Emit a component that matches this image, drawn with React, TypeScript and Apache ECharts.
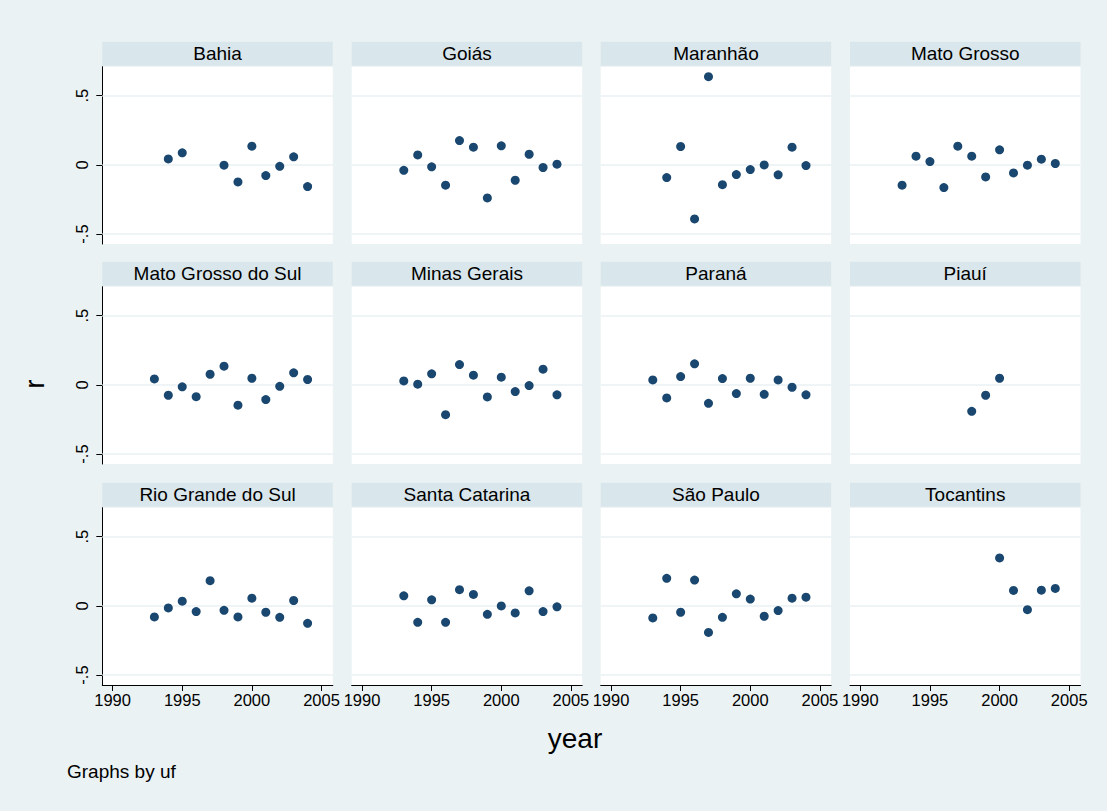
import React, { useEffect, useRef } from "react";
import * as echarts from "echarts";

const years = [1993, 1994, 1995, 1996, 1997, 1998, 1999, 2000, 2001, 2002, 2003, 2004];
const states = [
  "Bahia", "Goiás", "Maranhão", "Mato Grosso",
  "Mato Grosso do Sul", "Minas Gerais", "Paraná", "Piauí",
  "Rio Grande do Sul", "Santa Catarina", "São Paulo", "Tocantins",
];
const bahia = [null, 0.043, 0.087, null, null, -0.002, -0.123, 0.135, -0.077, -0.01, 0.058, -0.157];
const goias = [-0.039, 0.072, -0.014, -0.147, 0.176, 0.128, -0.239, 0.138, -0.111, 0.077, -0.019, 0.005];
const maranhao = [null, -0.092, 0.133, -0.391, 0.638, -0.143, -0.07, -0.034, 0.0, -0.072, 0.128, -0.005];
const matoGrosso = [-0.147, 0.063, 0.024, -0.164, 0.135, 0.063, -0.087, 0.109, -0.058, -0.002, 0.041, 0.01];
const matoGrossoSul = [0.043, -0.075, -0.014, -0.085, 0.077, 0.135, -0.147, 0.048, -0.106, -0.01, 0.087, 0.039];
const minasGerais = [0.029, 0.005, 0.08, -0.215, 0.147, 0.07, -0.087, 0.056, -0.048, -0.005, 0.114, -0.072];
const parana = [0.036, -0.094, 0.06, 0.152, -0.133, 0.046, -0.063, 0.048, -0.068, 0.036, -0.017, -0.072];
const piaui = [null, null, null, null, null, -0.191, -0.075, 0.048, null, null, null, null];
const rioGrandeSul = [-0.08, -0.015, 0.034, -0.041, 0.182, -0.032, -0.08, 0.056, -0.046, -0.083, 0.039, -0.126];
const santaCatarina = [0.073, -0.119, 0.044, -0.119, 0.117, 0.083, -0.061, 0.0, -0.051, 0.109, -0.041, -0.007];
const saoPaulo = [-0.087, 0.199, -0.046, 0.187, -0.192, -0.083, 0.087, 0.049, -0.075, -0.034, 0.056, 0.063];
const tocantins = [null, null, null, null, null, null, null, 0.347, 0.112, -0.027, 0.114, 0.126];
const seriesValues = [
  bahia, goias, maranhao, matoGrosso,
  matoGrossoSul, minasGerais, parana, piaui,
  rioGrandeSul, santaCatarina, saoPaulo, tocantins,
];
const xTicks = [1990, 1995, 2000, 2005];
const yTicks = [-0.5, 0, 0.5];
const yTickLabels = ["-.5", "0", ".5"];

const FONT = "'Liberation Sans', Arial, Helvetica, sans-serif";
const BG = "#EAF2F3";
const STRIP = "#D9E6EB";
const MARKER = "#1A476F";

export default function App() {
  const ref = useRef<HTMLDivElement>(null);
  useEffect(() => {
    document.body.style.margin = "0";
    const chart = echarts.init(ref.current!, null, { renderer: "svg" });
    const lefts = [102.3, 351.7, 600.7, 850];
    const tops = [66.7, 286.7, 507.7];
    const W = 230.5;
    const H = 177.3;
    const grids: any[] = [];
    const xAxes: any[] = [];
    const yAxes: any[] = [];
    const series: any[] = [];
    const graphics: any[] = [];
    states.forEach((name, i) => {
      const r = Math.floor(i / 4);
      const c = i % 4;
      grids.push({
        left: lefts[c], top: tops[r], width: W, height: H,
        show: true, backgroundColor: "#ffffff", borderWidth: 0,
      });
      const showX = r === 2;
      xAxes.push({
        gridIndex: i, type: "value", min: 1989.26, max: 2005.81,
        show: showX,
        axisLine: { show: true, onZero: false, lineStyle: { color: "#000", width: 1 } },
        axisTick: { show: true, length: 6, customValues: xTicks, lineStyle: { color: "#000" } },
        axisLabel: {
          show: true, customValues: xTicks, margin: 6, fontSize: 16.5, color: "#000", fontFamily: FONT,
          hideOverlap: false, formatter: (v: number) => String(v),
        },
        splitLine: { show: false },
      });
      const showY = c === 0;
      yAxes.push({
        gridIndex: i, type: "value", min: -0.572, max: 0.71,
        show: showY,
        axisLine: { show: true, onZero: false, lineStyle: { color: "#000", width: 1 } },
        axisTick: { show: true, length: 6, customValues: yTicks, lineStyle: { color: "#000" } },
        axisLabel: {
          show: true, customValues: yTicks, rotate: 90, margin: 12, fontSize: 16.5, color: "#000", fontFamily: FONT,
          formatter: (v: number) => yTickLabels[yTicks.indexOf(v)] ?? String(v),
        },
        splitLine: { show: false },
      });
      const vals = seriesValues[i];
      const data = years
        .map((y, k) => (vals[k] == null ? null : [y, vals[k]]))
        .filter((d) => d !== null);
      series.push({
        type: "scatter", xAxisIndex: i, yAxisIndex: i, data,
        symbol: "circle", symbolSize: 9,
        itemStyle: { color: MARKER, opacity: 1 },
        markLine: {
          silent: true, symbol: "none", animation: false,
          label: { show: false },
          lineStyle: { color: BG, width: 1.5, type: "solid" },
          data: yTicks.map((t) => ({ yAxis: t })),
          z: 1,
        },
        z: 3,
      });
      graphics.push({
        type: "rect",
        shape: { x: lefts[c], y: tops[r] - 25, width: W, height: 24 },
        style: { fill: STRIP },
        silent: true,
      });
      graphics.push({
        type: "text",
        x: lefts[c] + W / 2, y: tops[r] - 13,
        style: { text: name, fill: "#000", font: `19px ${FONT}`, textAlign: "center", textVerticalAlign: "middle" },
        silent: true,
      });
    });
    graphics.push({
      type: "text", x: 35, y: 384, rotation: Math.PI / 2,
      style: { text: "r", fill: "#000", font: `27px ${FONT}`, textAlign: "center", textVerticalAlign: "middle" },
    });
    graphics.push({
      type: "text", x: 575, y: 738,
      style: { text: "year", fill: "#000", font: `28px ${FONT}`, textAlign: "center", textVerticalAlign: "middle" },
    });
    graphics.push({
      type: "text", x: 67, y: 771,
      style: { text: "Graphs by uf", fill: "#000", font: `19px ${FONT}`, textAlign: "left", textVerticalAlign: "middle" },
    });
    chart.setOption({
      animation: false,
      backgroundColor: BG,
      grid: grids,
      xAxis: xAxes,
      yAxis: yAxes,
      series,
      graphic: graphics,
    });
    return () => chart.dispose();
  }, []);
  return <div ref={ref} style={{ width: 1107, height: 811 }} />;
}
